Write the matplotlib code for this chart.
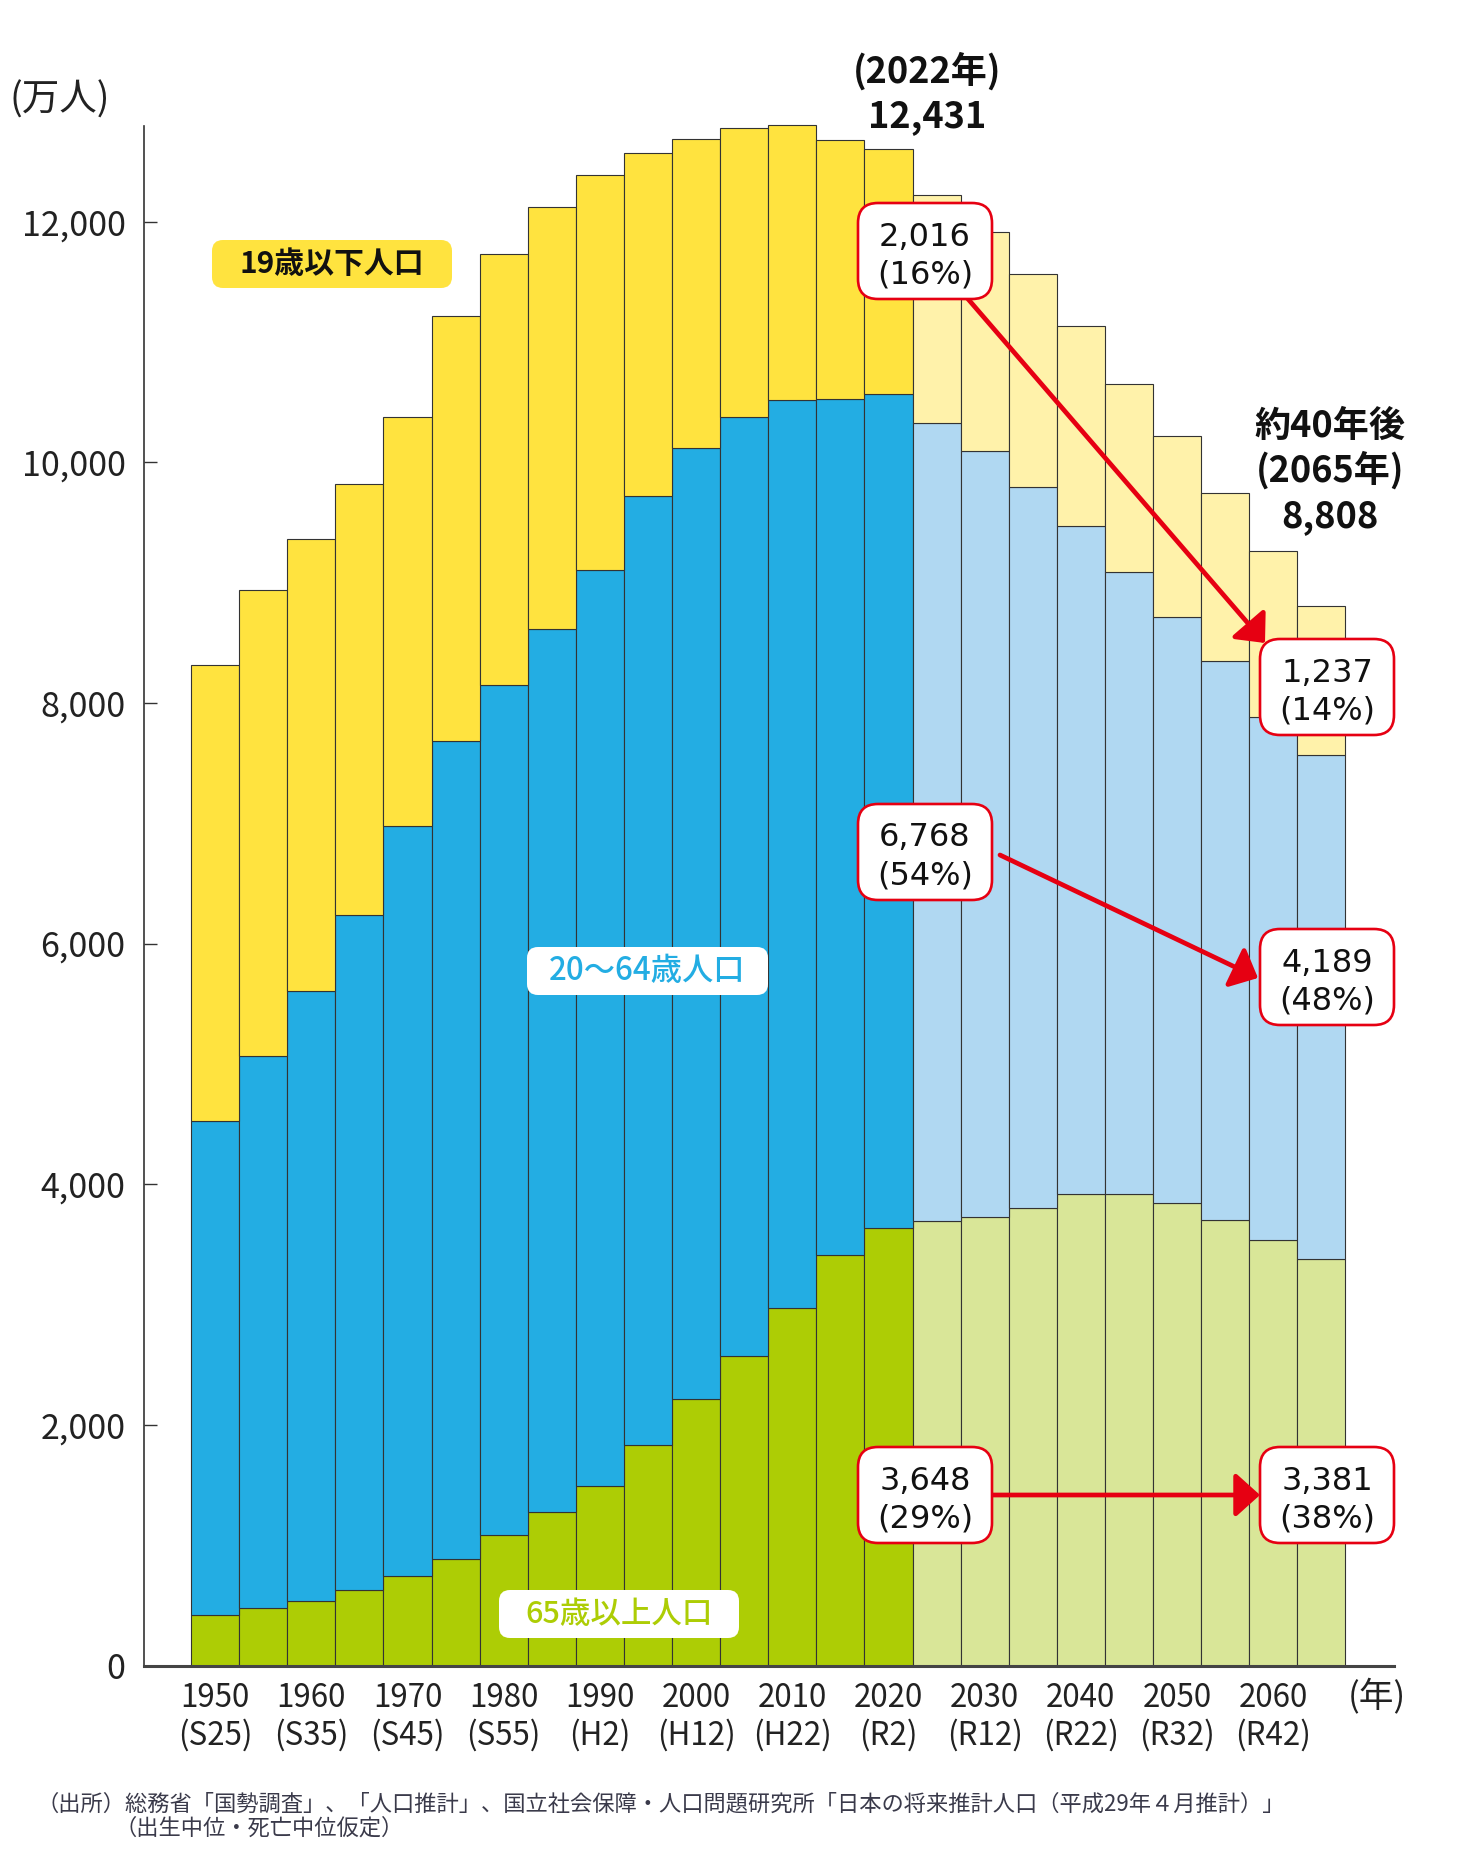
import matplotlib
matplotlib.use('Agg')
import matplotlib.pyplot as plt
import matplotlib.transforms as mtransforms
from matplotlib.patches import FancyBboxPatch, FancyArrowPatch
import numpy as np

plt.rcParams['font.family'] = ['Noto Sans CJK JP', 'DejaVu Sans']

# ---------------- data (万人) ----------------
years = [1950, 1955, 1960, 1965, 1970, 1975, 1980, 1985, 1990, 1995, 2000, 2005,
         2010, 2015, 2020, 2025, 2030, 2035, 2040, 2045, 2050, 2055, 2060, 2065]
pop_65_over = [418, 478, 537, 627, 746, 886, 1085, 1274, 1493, 1831, 2219, 2572,
               2971, 3412, 3632, 3692, 3731, 3801, 3920, 3920, 3841, 3701, 3536, 3381]
pop_20_64 = [4109, 4587, 5065, 5612, 6229, 6796, 7064, 7343, 7611, 7890, 7900, 7806,
             7546, 7115, 6935, 6636, 6359, 5990, 5553, 5165, 4875, 4647, 4345, 4189]
pop_19_under = [3791, 3870, 3761, 3582, 3403, 3532, 3582, 3505, 3284, 2852, 2568, 2401,
                2284, 2152, 2037, 1896, 1820, 1771, 1661, 1562, 1503, 1393, 1383, 1237]
last_actual_year = 2020

tick_years = [1950, 1960, 1970, 1980, 1990, 2000, 2010, 2020, 2030, 2040, 2050, 2060]
tick_eras = ['(S25)', '(S35)', '(S45)', '(S55)', '(H2)', '(H12)', '(H22)', '(R2)',
             '(R12)', '(R22)', '(R32)', '(R42)']
y_ticks = [0, 2000, 4000, 6000, 8000, 10000, 12000]

callouts = [  # (value, share)
    ('2,016', '(16%)'), ('1,237', '(14%)'),
    ('6,768', '(54%)'), ('4,189', '(48%)'),
    ('3,648', '(29%)'), ('3,381', '(38%)'),
]
source_lines = ['（出所）総務省「国勢調査」、「人口推計」、国立社会保障・人口問題研究所「日本の将来推計人口（平成29年４月推計）」',
                '（出生中位・死亡中位仮定）']

# ---------------- styles ----------------
W, H = 1457, 1876
C_Y, C_Y_L = '#FFE33F', '#FFF2AA'
C_B, C_B_L = '#23ADE3', '#B0D8F2'
C_G, C_G_L = '#ADCD05', '#D9E698'
RED = '#E60012'
EDGE = '#333333'

fig = plt.figure(figsize=(W / 100, H / 100), dpi=100)
ax = fig.add_axes([143.5 / W, 210.5 / H, (1393.5 - 143.5) / W, 1539.5 / H])

x = np.arange(len(years))
actual = np.array(years) <= last_actual_year
c65 = [C_G if a else C_G_L for a in actual]
c2064 = [C_B if a else C_B_L for a in actual]
c19 = [C_Y if a else C_Y_L for a in actual]
p65 = np.array(pop_65_over)
p2064 = np.array(pop_20_64)
p19 = np.array(pop_19_under)

kw = dict(width=1.0, edgecolor=EDGE, linewidth=0.8, clip_on=False)
ax.bar(x, p65, color=c65, **kw)
ax.bar(x, p2064, bottom=p65, color=c2064, **kw)
ax.bar(x, p19, bottom=p65 + p2064, color=c19, **kw)

ax.set_xlim(-1.488, 24.5)
ax.set_ylim(0, 12795)
for s in ['top', 'right']:
    ax.spines[s].set_visible(False)
ax.spines['left'].set_color('#333333')
ax.spines['left'].set_linewidth(1.2)
ax.spines['bottom'].set_color('#444444')
ax.spines['bottom'].set_linewidth(2.2)
ax.spines['bottom'].set_zorder(3)

ax.set_yticks(y_ticks)
ax.set_yticklabels([f'{v:,}' for v in y_ticks])
ax.tick_params(axis='y', direction='in', length=9.5, width=1.0, color='#333333',
               pad=13, labelsize=24.5, labelcolor='#222222')
ax.set_xticks([])

# x tick labels (year + era)
trans_year = mtransforms.offset_copy(ax.get_xaxis_transform(), fig=fig, x=0, y=-41, units='dots')
trans_era = mtransforms.offset_copy(ax.get_xaxis_transform(), fig=fig, x=0, y=-79, units='dots')
for yr, er in zip(tick_years, tick_eras):
    i = years.index(yr)
    ax.text(i, 0, str(yr), transform=trans_year, ha='center', va='baseline',
            fontsize=22.5, color='#222222')
    ax.text(i, 0, er, transform=trans_era, ha='center', va='baseline',
            fontsize=22.5, color='#222222')

# ---------------- overlay (annotation layer, pixel coords) ----------------
ov = fig.add_axes([0, 0, 1, 1], zorder=5)
ov.set_xlim(0, W)
ov.set_ylim(H, 0)
ov.axis('off')

ov.text(60, 100, '(万人)', ha='center', va='center', fontsize=27, color='#222222')
ov.text(1377, 1697, '(年)', ha='center', va='center', fontsize=25, color='#222222')


def label_box(x0, y0, x1, y1, text, fc, tc, weight, size):
    ov.add_patch(FancyBboxPatch((x0, y0), x1 - x0, y1 - y0,
                                boxstyle='round,pad=0,rounding_size=11',
                                fc=fc, ec='none'))
    ov.text((x0 + x1) / 2, (y0 + y1) / 2, text, ha='center', va='center',
            fontsize=size, color=tc, fontweight=weight)


label_box(212, 240, 452, 288, '19歳以下人口', C_Y, '#111111', 'bold', 21.5)
label_box(527, 947, 768, 995, '20～64歳人口', 'white', C_B, 'medium', 22.5)
label_box(499, 1590, 739, 1638, '65歳以上人口', 'white', C_G, 'medium', 22)

# top annotations
for txt, yb in [('(2022年)', 83), ('12,431', 127)]:
    ov.text(927, yb, txt, ha='center', va='baseline', fontsize=26, fontweight='bold', color='#111111')
for txt, yb in [('約40年後', 437), ('(2065年)', 482), ('8,808', 527)]:
    ov.text(1330, yb, txt, ha='center', va='baseline', fontsize=26, fontweight='bold', color='#111111')

# arrows
arrows = [((962, 292), (1265, 643)), ((1000, 855), (1258, 978)), ((992, 1495), (1260, 1495))]
for a, b in arrows:
    ov.add_patch(FancyArrowPatch(a, b, arrowstyle='-|>,head_length=15,head_width=13.5',
                                 mutation_scale=1, color=RED, lw=3.4, shrinkA=0, shrinkB=0,
                                 zorder=2))

# callout boxes
box_centers = [(925, 251), (1327, 687), (925, 852), (1327, 977), (925, 1495), (1327, 1495)]
bw, bh = 134, 96
for (cx, cy), (v, s) in zip(box_centers, callouts):
    ov.add_patch(FancyBboxPatch((cx - bw / 2, cy - bh / 2), bw, bh,
                                boxstyle='round,pad=0,rounding_size=20',
                                fc='white', ec=RED, lw=1.9, zorder=3))
    ov.text(cx, cy - 5.5, v, ha='center', va='baseline', fontsize=23,
            family=['DejaVu Sans'], color='#111111', zorder=4)
    ov.text(cx, cy + 32.5, s, ha='center', va='baseline', fontsize=23,
            family=['DejaVu Sans'], color='#111111', zorder=4)

# source
ov.text(36, 1804, source_lines[0], ha='left', va='center', fontsize=16, color='#3a3a4a')
ov.text(114, 1828, source_lines[1], ha='left', va='center', fontsize=16, color='#3a3a4a')

fig.savefig('out.png', dpi=100)
